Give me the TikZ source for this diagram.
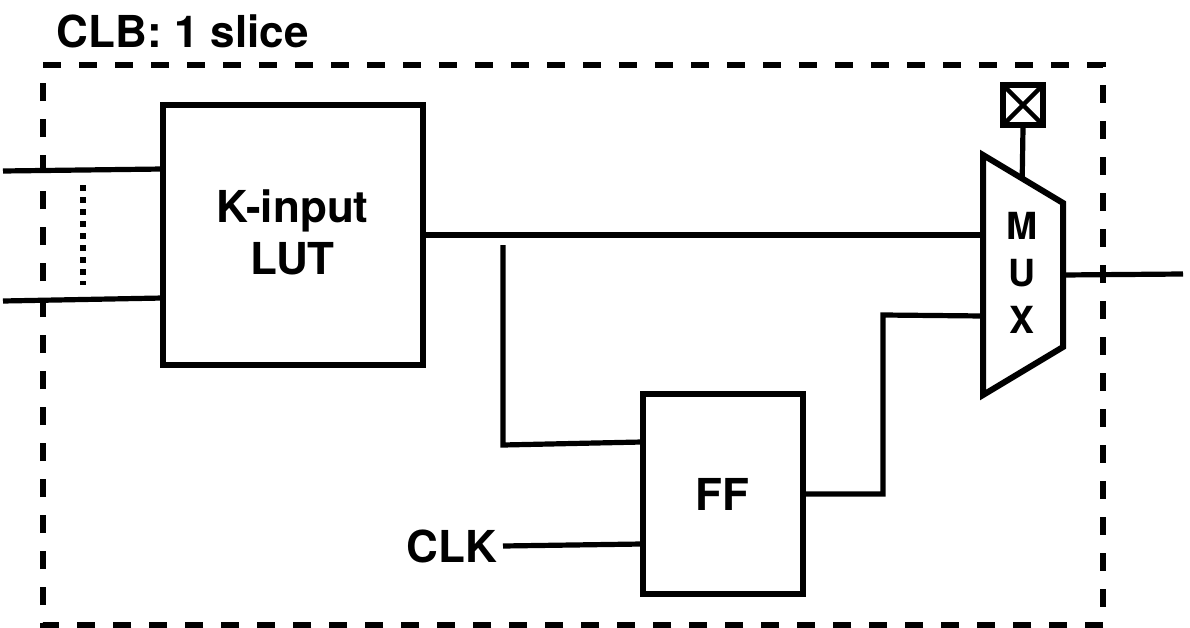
\documentclass[tikz,border=0pt]{standalone}
\usepackage{fontspec}
\setmainfont{TeX Gyre Heros}
\usetikzlibrary{calc}
\tikzset{
	wire/.style={line width=3.9pt},
	block/.style={draw, line width=4.5pt, inner sep=0pt},
	label/.style={inner sep=0pt, align=center, font=\fontsize{33}{39}\selectfont\bfseries}
}

\begin{document}
\begin{tikzpicture}[x=0.75pt,y=-0.75pt]
	\useasboundingbox (0,0) rectangle (1190,628);

	% CLB outline
	\draw[line width=4.5pt, dash pattern=on 13.5pt off 13.5pt] (43,65) -- (1103,65) -- (1103,625) -- (43,625) -- cycle;
	\node[label, anchor=west] (title) at (56.5,31) {CLB: 1 slice};

	% LUT and flip-flop
	\node[block, minimum width=195pt, minimum height=194.5pt] (lut) at (293,235) {};
	\node[label] (luttext) at (292.5,232.5) {K-input\\LUT};
	\node[block, minimum width=120pt, minimum height=150pt] (ff) at (722.5,494) {};
	\node[label] (fftext) at (722.5,494) {FF};

	% Mux outline
	\coordinate (muxtl) at (983,155);
	\coordinate (muxtr) at (1063,203);
	\coordinate (muxbr) at (1063,347);
	\coordinate (muxbl) at (983,395);
	\draw[line width=4.5pt, miter limit=4] (muxtl) -- (muxtr) -- (muxbr) -- (muxbl) -- cycle;
	\node[label, font=\fontsize{28}{35.5}\selectfont\bfseries] (mux) at (1022,273) {M\\U\\X};

	% Select box
	\node[draw, line width=4.5pt, minimum size=30pt, inner sep=0pt,
		path picture={\draw[line width=3.2pt] (path picture bounding box.north west) -- (path picture bounding box.south east);
			\draw[line width=3.2pt] (path picture bounding box.north east) -- (path picture bounding box.south west);}] (sel) at (1023,105) {};
	\draw[wire] (sel.south) -- ($(muxtl)!0.49!(muxtr)$);

	% Inputs
	\foreach \name/\y/\yend in {ina/171/169, inb/301/298} {
		\coordinate (\name) at (3,\y);
		\coordinate (\name end) at (163,\yend);
		\draw[wire] (\name) -- (\name end);
	}
	\draw[line width=4.5pt, dash pattern=on 4.5pt off 4.5pt] (83,185) -- (83,285);

	% Wires
	\coordinate (muxin) at (983,235);
	\coordinate (muxff) at (983,316);
	\coordinate (muxout) at (1183,274);
	\coordinate (tap) at (503,245);
	\coordinate (ffd) at (642,442);
	\draw[wire] (lut.east |- muxin) -- (muxin);
	\draw[wire] (tap) -- (503,445) -- (ffd);
	\draw[wire] (ff.east) -- (883,494) -- (883,315) -- (muxff);
	\draw[wire] (1063,275) -- (muxout);

	% Clock
	\node[label] (clk) at (452,546) {CLK};
	\draw[wire] (clk.east -| 503,0) -- (642,544);
\end{tikzpicture}
\end{document}
